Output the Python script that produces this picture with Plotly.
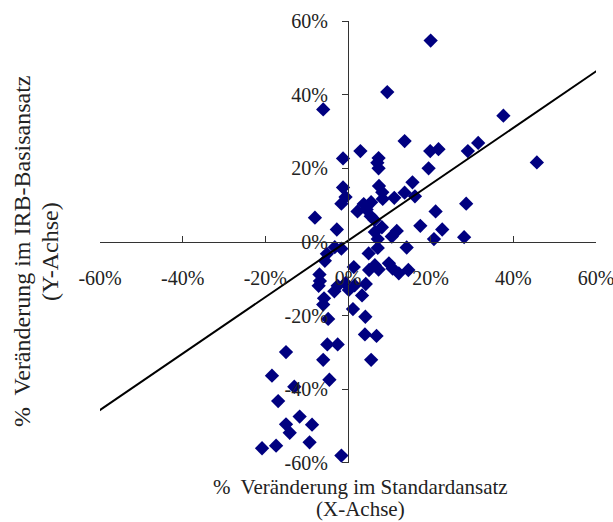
import plotly.graph_objects as go

# % change in standard approach (X) and IRB foundation approach (Y)
x_std = [20.0, 9.5, -6.0, 37.6, 13.7, 31.5, 3.0, 19.9, 21.9, 29.0,
         -1.2, 7.4, 7.1, 45.7, 7.4, 19.5, 15.6, -1.2, 7.5, 8.3,
         13.7, 11.2, 8.4, 16.2, -0.6, -1.6, 28.6, 3.8, 5.6, 2.3,
         4.5, 5.5, 21.2, 6.4, -8.0, 17.5, 8.2, 22.8, -2.7, 11.8,
         6.5, 10.6, 28.1, 20.8, 7.2, 7.2, 14.2, -3.2, -1.6, 5.0,
         -5.1, -5.6, 9.9, 1.4, 6.5, 5.1, 10.8, 12.3, 14.6, 7.4,
         -6.9, -6.8, -7.1, -0.6, -2.5, 1.6, 4.3, -3.3, 0.2, 3.4,
         -5.8, -6.0, 1.2, -4.8, 4.2, 4.1, 6.9, -5.0, -2.5, -15.0,
         -6.0, 5.6, -4.5, -18.4, -13.0, -16.9, -11.7, -15.0, -8.7, -14.1,
         -9.3, -20.8, -17.4, -1.6]
y_irb = [54.7, 40.7, 36.0, 34.3, 27.4, 26.9, 24.7, 24.7, 25.2, 24.7,
         22.7, 22.8, 21.5, 21.6, 20.0, 20.0, 16.2, 14.8, 15.2, 13.5,
         13.4, 12.0, 11.7, 12.4, 12.2, 10.4, 10.4, 10.3, 10.8, 8.3,
         8.8, 7.0, 8.3, 6.0, 6.6, 4.4, 4.0, 3.4, 3.4, 3.0,
         2.7, 1.5, 1.3, 0.8, 0.8, -1.6, -1.5, -1.4, -1.8, -3.1,
         -3.2, -5.1, -5.8, -6.8, -6.3, -7.6, -7.2, -8.5, -7.6, -7.5,
         -8.8, -10.6, -11.9, -11.2, -11.9, -11.8, -11.4, -13.4, -13.0, -14.5,
         -15.3, -17.0, -18.2, -20.9, -20.3, -25.1, -25.5, -27.8, -27.8, -29.9,
         -32.0, -32.0, -37.4, -36.3, -39.3, -43.2, -47.4, -49.5, -49.6, -51.8,
         -54.4, -56.0, -55.3, -58.0]

# trend line endpoints
trend_x = [-60.5, 60.5]
trend_y = [-46.0, 46.7]

tick_vals = [-60, -40, -20, 0, 20, 40, 60]
tick_text = ["-60%", "-40%", "-20%", "0%", "20%", "40%", "60%"]

x_title_lines = ["%\u00a0 Veränderung im Standardansatz", "(X-Achse)"]
y_title_lines = ["%\u00a0 Veränderung im IRB-Basisansatz", "(Y-Achse)"]

FONT = "Liberation Serif, Times New Roman, serif"

fig = go.Figure()
fig.add_trace(go.Scatter(
    x=x_std, y=y_irb, mode="markers",
    marker=dict(symbol="diamond", size=11, color="#000080", line=dict(width=0)),
    showlegend=False, hoverinfo="x+y"))
fig.add_trace(go.Scatter(
    x=trend_x, y=trend_y, mode="lines",
    line=dict(color="black", width=2), showlegend=False))

axis_common = dict(
    range=[-60.01, 60.01], tickvals=tick_vals, ticktext=tick_text,
    showgrid=False, zeroline=False, showline=True,
    linecolor="#333", linewidth=1.2, tickcolor="#333", tickwidth=1.2,
    ticklen=6, anchor="free", position=0.5, automargin=False,
    ticklabeloverflow="allow",
    tickfont=dict(family=FONT, size=20, color="#222"),
)

annotations = []
for text, py in zip(x_title_lines, [487, 509]):
    annotations.append(dict(
        text=text, xref="paper", yref="paper",
        x=(360 - 100) / 496, y=(463 - py) / 442,
        xanchor="center", yanchor="middle", showarrow=False,
        font=dict(family=FONT, size=21, color="#222")))
for text, px in zip(y_title_lines, [22, 50]):
    annotations.append(dict(
        text=text, xref="paper", yref="paper",
        x=(px - 100) / 496, y=(463 - 252) / 442,
        xanchor="center", yanchor="middle", showarrow=False,
        textangle=-90,
        font=dict(family=FONT, size=24, color="#222")))

fig.update_layout(
    width=613, height=522,
    margin=dict(l=100, r=17, t=21, b=59),
    paper_bgcolor="white", plot_bgcolor="white",
    font=dict(family=FONT, color="#222"),
    xaxis=dict(**axis_common, ticks="inside", ticklabelstandoff=18),
    yaxis=dict(**axis_common, ticks="outside", ticklabelstandoff=10),
    annotations=annotations,
)

fig.write_html("out.html")
